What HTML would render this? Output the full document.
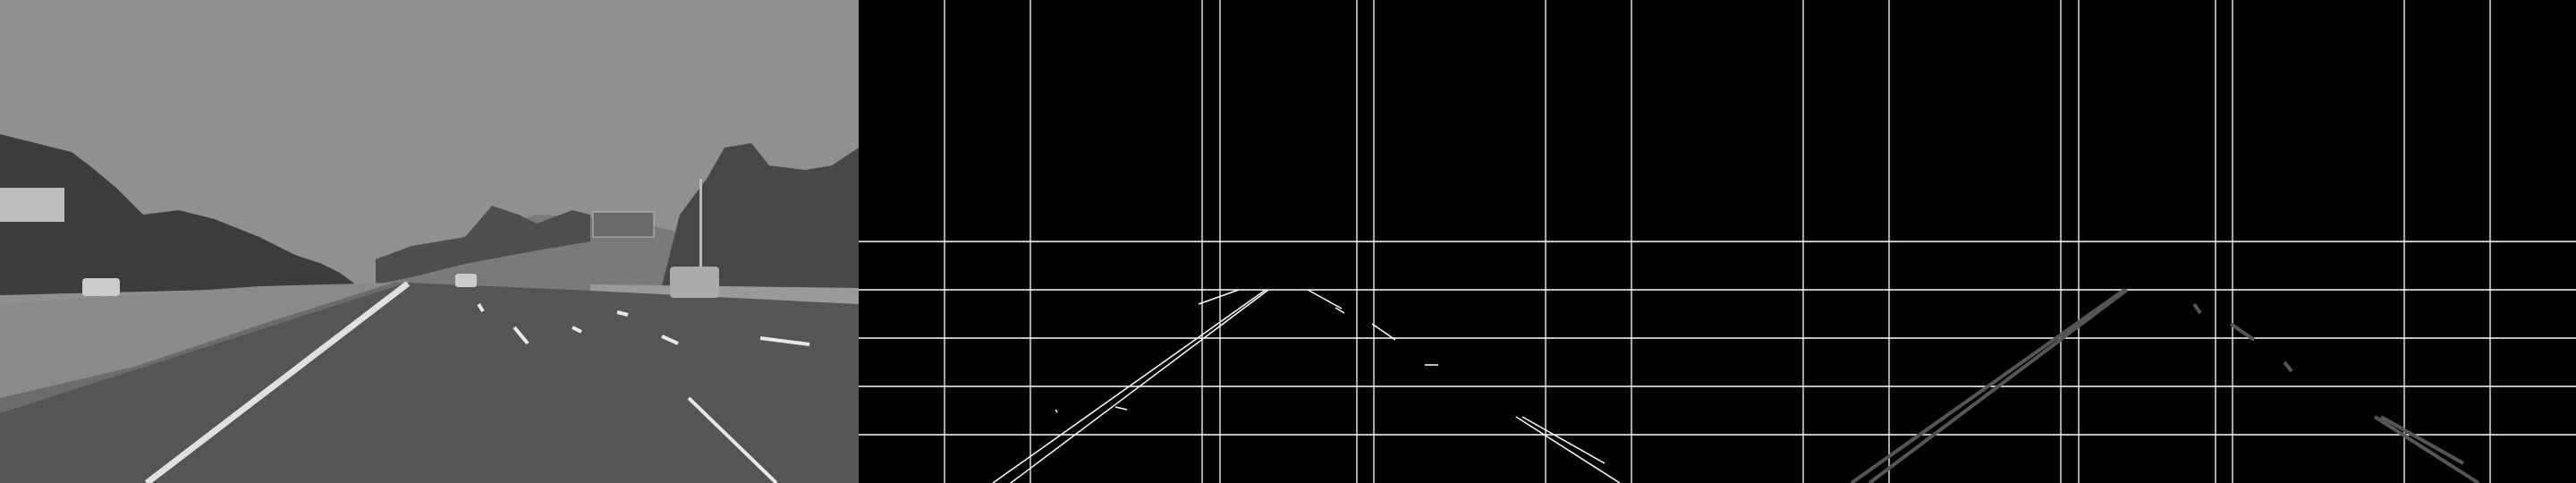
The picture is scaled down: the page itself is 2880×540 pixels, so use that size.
<!DOCTYPE html>
<html><head><meta charset="utf-8"><style>
html,body{margin:0;padding:0;background:#000;width:2880px;height:540px;overflow:hidden}
svg{display:block}
</style></head><body>
<svg id="root" width="2880" height="540" viewBox="0 0 2880 540" xmlns="http://www.w3.org/2000/svg">
<g id="photo">
  <rect x="0" y="0" width="960" height="540" fill="#909090"/>
  <polygon fill="#7a7a7a" points="420,300 500,270 600,240 700,245 760,260 760,330 420,330"/>
  <polygon fill="#4e4e4e" points="420,290 460,275 520,265 550,230 580,240 600,250 640,235 660,240 660,270 600,280 520,295 460,310 420,318"/>
  <polygon fill="#3c3c3c" points="0,150 40,160 80,170 100,185 130,210 150,230 160,240 200,235 240,245 290,265 330,285 360,295 380,305 400,320 0,330"/>
  <polygon fill="#474747" points="740,320 760,240 790,200 810,165 840,160 860,185 900,190 930,185 960,165 960,335 740,335"/>
  <rect x="0" y="210" width="72" height="38" fill="#bdbdbd"/>
  <rect x="663" y="237" width="68" height="28" fill="#6a6a6a" stroke="#bbb" stroke-width="1"/>
  <rect x="782" y="200" width="3" height="118" fill="#bbb"/>
  <polygon fill="#8a8a8a" points="0,340 290,320 440,316 300,360 150,410 0,445"/>
  <polygon fill="#6c6c6c" points="0,445 150,410 300,360 440,316 455,316 160,470 0,470"/>
  <polygon fill="#555" points="455,316 960,338 960,540 0,540 0,462"/>
  <polygon fill="#9a9a9a" points="660,318 960,322 960,340 660,325"/>
  <rect x="749" y="298" width="55" height="35" rx="4" fill="#aaa"/>
  <rect x="509" y="306" width="24" height="15" rx="3" fill="#ccc"/>
  <rect x="92" y="311" width="42" height="20" rx="4" fill="#ccc"/>
  <g id="photo-lines"></g>
</g>
<g id="edges" transform="translate(960,0)">
  <rect x="0" y="0" width="960" height="540" fill="#000"/>
  <g id="edge-grid"></g>
  <g id="edge-lines"></g>
</g>
<g id="hough" transform="translate(1920,0)">
  <rect x="0" y="0" width="960" height="540" fill="#000"/>
  <g id="hough-grid"></g>
  <g id="hough-lines"></g>
</g>
</svg>
<script>
const gridX = [96, 192, 384, 404, 557, 576, 768, 864];
const gridY = [270, 324, 378, 432, 486];
// segments: [x1,y1,x2,y2] in panel-local pixels
const laneLeftA = [455, 324, 150, 540];
const laneLeftB = [458, 324, 170, 540];
const laneRightA = [735, 466, 851, 540];
const laneRightB = [742, 466, 834, 518];
const edgeExtras = [[380,340,425,324],[502,324,540,345],[574,362,600,380],[533,344,543,350],[633,408,648,408],[220,458,222,461],[287,455,300,458]];
const houghExtras = [[533,340,540,350],[574,362,600,380],[634,405,642,415]];
const paintLeft = [456, 317, 164, 540];
const paintRightDash = [[770,445,868,540],[575,366,590,384],[535,340,540,348],[640,366,650,371],[740,376,758,384],[850,378,905,385],[690,349,702,352]];
const NS='http://www.w3.org/2000/svg';
function seg(parent, s, stroke, w, name){
  const l=document.createElementNS(NS,'line');
  l.setAttribute('x1',s[0]);l.setAttribute('y1',s[1]);l.setAttribute('x2',s[2]);l.setAttribute('y2',s[3]);
  l.setAttribute('stroke',stroke);l.setAttribute('stroke-width',w);
  
  
  parent.appendChild(l);
}
function grid(id){
  const g=document.getElementById(id);
  gridX.forEach(x=>seg(g,[x,0,x,540],'#fff',1.3,'grid-vertical'));
  gridY.forEach(y=>seg(g,[0,y,960,y],'#fff',1.5,'grid-horizontal'));
}
grid('edge-grid');grid('hough-grid');
const eg=document.getElementById('edge-lines');
[laneLeftA,laneLeftB].forEach(s=>seg(eg,s,'#fff',1.5,'left-lane-edge'));
[laneRightA,laneRightB].forEach(s=>seg(eg,s,'#fff',1.5,'right-lane-edge'));
edgeExtras.forEach(s=>seg(eg,s,'#fff',1.5,'minor-edge'));
const hg=document.getElementById('hough-lines');
[laneLeftA,laneLeftB].forEach(s=>seg(hg,s,'#555',4,'left-hough-line'));
[laneRightA,laneRightB].forEach(s=>seg(hg,s,'#555',4,'right-hough-line'));
houghExtras.forEach(s=>seg(hg,s,'#555',4,'minor-hough-line'));
const pg=document.getElementById('photo-lines');
seg(pg,paintLeft,'#e0e0e0',7,'left-solid-line');
paintRightDash.forEach(s=>seg(pg,s,'#e8e8e8',4,'dashed-lane-mark'));
</script>
</body></html>
